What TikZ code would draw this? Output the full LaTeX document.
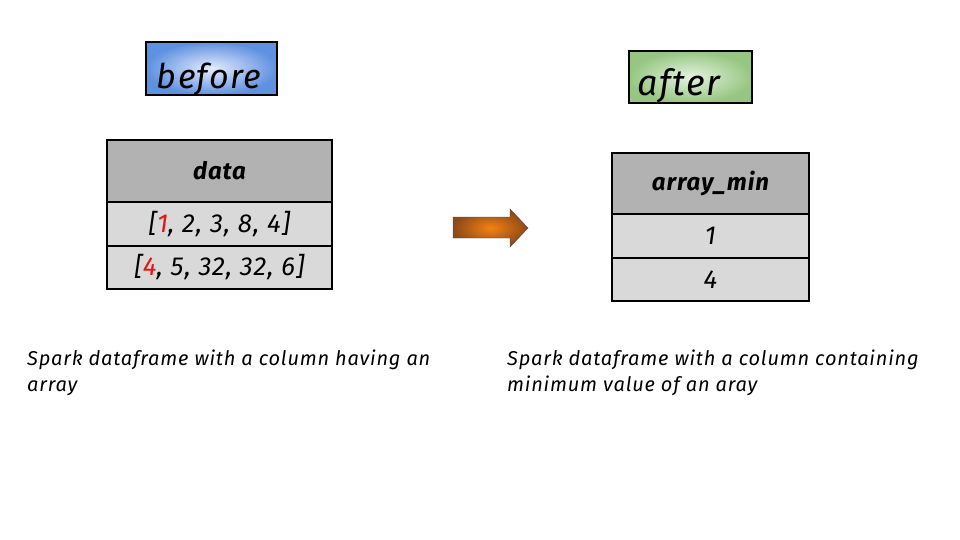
\documentclass[tikz,border=0pt]{standalone}
\usepackage{fontspec}
\setmainfont{Fira Sans}
\newfontfamily\handfont{Fira Sans}[LetterSpace=4]
\definecolor{hdrgray}{RGB}{178,178,178}
\definecolor{rowgray}{RGB}{217,217,217}
\definecolor{blueout}{RGB}{95,145,225}
\definecolor{bluein}{RGB}{228,236,252}
\definecolor{greenout}{RGB}{150,198,130}
\definecolor{greenin}{RGB}{228,242,222}
\definecolor{orin}{RGB}{245,130,20}
\definecolor{orout}{RGB}{140,72,22}
\definecolor{numred}{RGB}{230,20,20}
\begin{document}
\begin{tikzpicture}[x=1pt,y=-1pt,
  cell/.style={draw=black, line width=1.1pt, inner sep=0pt, outer sep=0pt, font=\handfont\fontsize{26}{28}\selectfont\itshape},
  hdr/.style={cell, fill=hdrgray, font=\handfont\fontsize{24}{26}\selectfont\bfseries\itshape},
  row/.style={cell, fill=rowgray},
  caption/.style={anchor=base west, inner sep=0pt, font=\handfont\fontsize{20}{22}\selectfont\itshape},
  titlebox/.style={draw=black, line width=2.2pt, inner sep=0pt, outer sep=0pt},
  titletext/.style={inner sep=0pt, font=\handfont\fontsize{34}{36}\selectfont\itshape}
]
\useasboundingbox (0,0) rectangle (960,540);
% before title
\node[titlebox, minimum width=131pt, minimum height=53pt, inner color=bluein, outer color=blueout] (before) at (211.5,68.5) {};
\node[titletext, anchor=base] (beforet) at (209,89) {before};
% after title
\node[titlebox, minimum width=123pt, minimum height=52pt, inner color=greenin, outer color=greenout] (after) at (690.5,77) {};
\node[titletext, anchor=base, font=\handfont\fontsize{36}{38}\selectfont\itshape] (aftert) at (679,96) {after};
% left table
\node[hdr, minimum width=225pt, minimum height=62pt] (h1) at (219.5,171) {data};
\node[row, minimum width=225pt, minimum height=44pt] (r11) at (219.5,224) {[{\color{numred}1}, 2, 3, 8, 4]};
\node[row, minimum width=225pt, minimum height=43pt] (r12) at (219.5,267.5) {[{\color{numred}4}, 5, 32, 32, 6]};
% right table
\node[hdr, minimum width=197pt, minimum height=61pt] (h2) at (710.5,183.5) {array\_min};
\node[row, minimum width=197pt, minimum height=44pt] (r21) at (710.5,236) {1};
\node[row, minimum width=197pt, minimum height=43pt] (r22) at (710.5,279.5) {4};
% arrow
\coordinate (tip) at (528,228);
\path[draw=black!70, line width=0.4pt, inner color=orin, outer color=orout]
  (453,217) -- (510,217) -- (510,209) -- (tip) -- (510,247) -- (510,238) -- (453,238) -- cycle;
% captions
\node[caption] (c1) at (27,365) {Spark dataframe with a column having an};
\node[caption] (c2) at (27,391) {array};
\node[caption] (c3) at (507,365) {Spark dataframe with a column containing};
\node[caption] (c4) at (507,391) {minimum value of an aray};
\end{tikzpicture}
\end{document}
